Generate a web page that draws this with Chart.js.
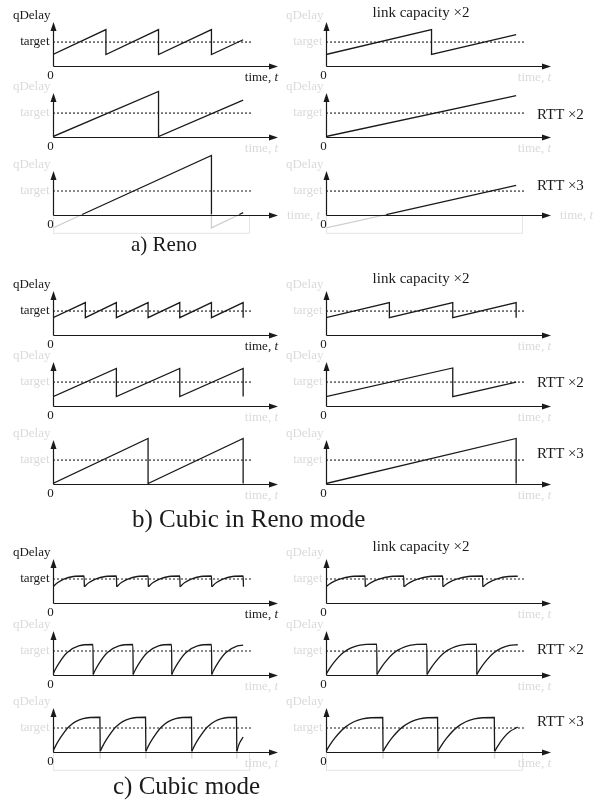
<!DOCTYPE html>
<html>
<head>
<meta charset="utf-8">
<script src="https://cdn.jsdelivr.net/npm/chart.js@4.4.1/dist/chart.umd.min.js"></script>
<style>
    html, body { margin: 0; padding: 0; background: #fff; }
    #fig { position: relative; width: 600px; height: 801px; overflow: hidden;
           font-family: "Liberation Serif", "Times New Roman", serif; color: #1a1a1a; }
    #fig canvas { position: absolute; }
    .note { position: absolute; line-height: 1; white-space: nowrap; transform: translateY(-50%); }
</style>
</head>
<body>
<div id="fig"></div>
<script>
// time in t units, qDelay in multiples of target
// a) Reno
const renoL1 = [[0,0.47],[1.67,1.53],[1.67,0.47],[3.33,1.53],[3.33,0.47],[5.0,1.53],[5.0,0.47],[6.0,1.1]];
const renoR1 = [[0,0.47],[3.33,1.53],[3.33,0.47],[6.0,1.32]];
const renoL2 = [[0,0],[3.33,1.92],[3.33,0],[6.0,1.55]];
const renoR2 = [[0,0],[6.0,1.74]];
const renoL3 = [[0,-0.57],[0.92,0],[5.0,2.52],[5.0,0],[5.0,-0.57],[5.88,0],[6.0,0.08]];
const renoR3 = [[0,-0.57],[1.9,0],[6.0,1.24]];

// b) Cubic in Reno mode
const crenoL1 = [[0,0.72],[1.02,1.36],[1.02,0.72],[2,1.36],[2,0.72],[3,1.36],[3,0.72],[4,1.36],[4,0.72],[5,1.36],[5,0.72],[6,1.36],[6,0.72]];
const crenoR1 = [[0,0.72],[2,1.36],[2,0.72],[4,1.36],[4,0.72],[6,1.36],[6,0.72]];
const crenoL2 = [[0,0.38],[2,1.58],[2,0.38],[4,1.58],[4,0.38],[6,1.58],[6,0.38]];
const crenoR2 = [[0,0.38],[4,1.6],[4,0.38],[6,1.0]];
const crenoL3 = [[0,0],[3,1.92],[3,0],[6,1.92],[6,0]];
const crenoR3 = [[0,0],[6,1.92],[6,0]];

// c) Cubic mode, one array per sawtooth cycle
const cubicL1 = [
    [[0,0.67],[0.05,0.74],[0.15,0.85],[0.34,1.0],[0.64,1.11],[0.98,1.13],[0.99,0.67]],
    [[0.99,0.67],[1.04,0.74],[1.14,0.85],[1.34,1.0],[1.65,1.11],[2.0,1.13],[2.01,0.67]],
    [[2.01,0.67],[2.06,0.74],[2.16,0.85],[2.36,1.0],[2.66,1.11],[3.0,1.13],[3.01,0.67]],
    [[3.01,0.67],[3.06,0.74],[3.16,0.85],[3.36,1.0],[3.66,1.11],[4.0,1.13],[4.01,0.67]],
    [[4.01,0.67],[4.06,0.74],[4.16,0.85],[4.36,1.0],[4.66,1.11],[5.0,1.13],[5.01,0.67]],
    [[5.01,0.67],[5.06,0.74],[5.16,0.85],[5.36,1.0],[5.66,1.11],[6.0,1.13],[6.01,0.67]]
];
const cubicR1 = [
    [[0,0.67],[0.06,0.74],[0.18,0.85],[0.43,1.0],[0.8,1.11],[1.23,1.13],[1.24,0.67]],
    [[1.24,0.67],[1.3,0.74],[1.42,0.85],[1.67,1.0],[2.04,1.11],[2.45,1.13],[2.46,0.67]],
    [[2.46,0.67],[2.52,0.74],[2.64,0.85],[2.89,1.0],[3.26,1.11],[3.68,1.13],[3.69,0.67]],
    [[3.69,0.67],[3.75,0.74],[3.87,0.85],[4.12,1.0],[4.49,1.11],[4.94,1.13],[4.95,0.67]],
    [[4.95,0.67],[5.01,0.74],[5.13,0.85],[5.38,1.0],[5.75,1.11],[6.05,1.12]]
];
const cubicL2 = [
    [[0,0],[0.06,0.18],[0.19,0.49],[0.44,0.93],[0.81,1.22],[1.26,1.28],[1.27,0]],
    [[1.27,0],[1.33,0.18],[1.46,0.49],[1.71,0.93],[2.08,1.22],[2.52,1.28],[2.53,0]],
    [[2.53,0],[2.59,0.18],[2.72,0.49],[2.97,0.93],[3.33,1.22],[3.74,1.28],[3.75,0]],
    [[3.75,0],[3.81,0.18],[3.94,0.49],[4.19,0.93],[4.56,1.22],[5.0,1.28],[5.01,0]],
    [[5.01,0],[5.07,0.18],[5.2,0.49],[5.45,0.93],[5.82,1.22],[6.0,1.25]]
];
const cubicR2 = [
    [[0,0],[0.08,0.19],[0.24,0.5],[0.55,0.94],[1.03,1.24],[1.6,1.3],[1.61,0]],
    [[1.61,0],[1.69,0.19],[1.85,0.5],[2.16,0.94],[2.64,1.24],[3.18,1.3],[3.19,0]],
    [[3.19,0],[3.27,0.19],[3.43,0.5],[3.74,0.94],[4.22,1.24],[4.75,1.3],[4.76,0]],
    [[4.76,0],[4.84,0.19],[5.0,0.5],[5.31,0.94],[5.79,1.24],[6.05,1.27]]
];
const cubicL3 = [
    [[0,0],[0.07,0.21],[0.22,0.56],[0.5,1.06],[0.95,1.4],[1.48,1.46],[1.49,0]],
    [[1.49,0],[1.56,0.21],[1.71,0.56],[1.99,1.06],[2.43,1.4],[2.92,1.46],[2.93,0]],
    [[2.93,0],[3.0,0.21],[3.15,0.56],[3.43,1.06],[3.87,1.4],[4.37,1.46],[4.38,0]],
    [[4.38,0],[4.45,0.21],[4.6,0.56],[4.88,1.06],[5.32,1.4],[5.79,1.46],[5.8,0]],
    [[5.8,0],[5.86,0.28],[6.0,0.62]]
];
const cubicR3 = [
    [[0,0],[0.09,0.21],[0.27,0.56],[0.62,1.05],[1.15,1.39],[1.79,1.45],[1.8,0]],
    [[1.8,0],[1.89,0.21],[2.07,0.56],[2.42,1.05],[2.95,1.39],[3.52,1.45],[3.53,0]],
    [[3.53,0],[3.62,0.21],[3.8,0.56],[4.15,1.05],[4.68,1.39],[5.31,1.45],[5.32,0]],
    [[5.32,0],[5.41,0.21],[5.59,0.56],[5.8,0.85],[6.05,1.04]]
];
const cubicL3Drops = [0, 1.49, 2.93, 4.38, 5.8];
const cubicR3Drops = [0, 1.8, 3.53, 5.32];

const targetLine = [[0,1],[6.28,1]];
const boxOutline = [[0,0],[0,-0.8],[6.2,-0.8],[6.2,0]];

const INK = '#1a1a1a';
const FADE = '#dadada';
const FADE_LINE = '#cfcfcf';
const X_MAX = 7.1, Y_MIN = -1, Y_MAX = 2.75, AXIS_TOP = 1.85;
const FONT = '"Liberation Serif", "Times New Roman", serif';

const panels = [
    { col: 0, axisY: 66,  lines: [renoL1], dark: true },
    { col: 1, axisY: 66,  lines: [renoR1] },
    { col: 0, axisY: 137, lines: [renoL2] },
    { col: 1, axisY: 137, lines: [renoR2] },
    { col: 0, axisY: 215, lines: [renoL3], box: true, sideTime: true },
    { col: 1, axisY: 215, lines: [renoR3], box: true, sideTime: true },
    { col: 0, axisY: 335, lines: [crenoL1], dark: true },
    { col: 1, axisY: 335, lines: [crenoR1] },
    { col: 0, axisY: 406, lines: [crenoL2] },
    { col: 1, axisY: 406, lines: [crenoR2] },
    { col: 0, axisY: 484, lines: [crenoL3] },
    { col: 1, axisY: 484, lines: [crenoR3] },
    { col: 0, axisY: 603, lines: cubicL1, smooth: true, dark: true },
    { col: 1, axisY: 603, lines: cubicR1, smooth: true },
    { col: 0, axisY: 675, lines: cubicL2, smooth: true },
    { col: 1, axisY: 675, lines: cubicR2, smooth: true },
    { col: 0, axisY: 752, lines: cubicL3, smooth: true, box: true, stubs: cubicL3Drops },
    { col: 1, axisY: 752, lines: cubicR3, smooth: true, box: true, stubs: cubicR3Drops }
];

const notes = [
    { text: 'link capacity \u00d72', x: 421, y: 12, size: 15, center: true },
    { text: 'RTT \u00d72', x: 537, y: 114, size: 15 },
    { text: 'RTT \u00d73', x: 537, y: 185, size: 15 },
    { text: 'a) Reno', x: 131, y: 244, size: 21 },
    { text: 'link capacity \u00d72', x: 421, y: 278, size: 15, center: true },
    { text: 'RTT \u00d72', x: 537, y: 382, size: 15 },
    { text: 'RTT \u00d73', x: 537, y: 453, size: 15 },
    { text: 'b) Cubic in Reno mode', x: 132, y: 518, size: 25 },
    { text: 'link capacity \u00d72', x: 421, y: 546, size: 15, center: true },
    { text: 'RTT \u00d72', x: 537, y: 649, size: 15 },
    { text: 'RTT \u00d73', x: 537, y: 721, size: 15 },
    { text: 'c) Cubic mode', x: 113, y: 785, size: 25 }
];

const toXY = arr => arr.map(p => ({ x: p[0], y: p[1] }));

// axes, arrows and the small axis labels
const framePlugin = {
    id: 'frame',
    afterDatasetsDraw(chart) {
        const p = chart.options.plugins.frame;
        const ctx = chart.ctx;
        const xs = chart.scales.x, ys = chart.scales.y;
        const x0 = Math.round(xs.getPixelForValue(0)) + 0.5;
        const y0 = Math.round(ys.getPixelForValue(0)) + 0.5;
        const tip = xs.getPixelForValue(X_MAX);
        const top = ys.getPixelForValue(AXIS_TOP);

        ctx.save();
        ctx.strokeStyle = INK;
        ctx.fillStyle = INK;
        ctx.lineWidth = 1.2;
        ctx.beginPath();
        ctx.moveTo(x0, y0); ctx.lineTo(tip - 6, y0);
        ctx.moveTo(x0, y0); ctx.lineTo(x0, top + 6);
        ctx.stroke();
        ctx.beginPath();
        ctx.moveTo(tip, y0); ctx.lineTo(tip - 9, y0 - 3); ctx.lineTo(tip - 9, y0 + 3);
        ctx.closePath(); ctx.fill();
        ctx.beginPath();
        ctx.moveTo(x0, top); ctx.lineTo(x0 - 3, top + 9); ctx.lineTo(x0 + 3, top + 9);
        ctx.closePath(); ctx.fill();

        ctx.textBaseline = 'middle';
        ctx.font = '13px ' + FONT;
        ctx.fillStyle = p.dark ? INK : FADE;
        ctx.textAlign = 'right';
        ctx.fillText('qDelay', x0 - 3, y0 - 51);
        ctx.fillText('target', x0 - 4, ys.getPixelForValue(1));

        // time, t  (t in italics)
        const w1 = ctx.measureText('time, ').width;
        ctx.font = 'italic 13px ' + FONT;
        const w2 = ctx.measureText('t').width;
        let tx = tip - w1 - w2, ty = y0 + 11;
        if (p.sideTime) { tx = tip + 9; ty = y0; }
        ctx.textAlign = 'left';
        ctx.font = '13px ' + FONT;
        ctx.fillText('time, ', tx, ty);
        ctx.font = 'italic 13px ' + FONT;
        ctx.fillText('t', tx + w1, ty);

        ctx.font = '13px ' + FONT;
        ctx.fillStyle = INK;
        ctx.textAlign = 'center';
        ctx.fillText('0', x0 - 3, y0 + 9);
        ctx.restore();
    }
};

function buildPanel(panel) {
    const W = 327, H = 88;
    const canvas = document.createElement('canvas');
    canvas.width = W; canvas.height = H;
    canvas.style.width = W + 'px'; canvas.style.height = H + 'px';
    canvas.style.left = (panel.col === 0 ? 0 : 273) + 'px';
    canvas.style.top = Math.round(panel.axisY - H * Y_MAX / (Y_MAX - Y_MIN)) + 'px';
    document.getElementById('fig').appendChild(canvas);

    const datasets = [];
    datasets.push({
        data: toXY(targetLine), borderColor: INK, borderWidth: 1.1,
        borderDash: [2, 2], pointRadius: 0, tension: 0
    });
    if (panel.box) {
        datasets.push({
            data: toXY(boxOutline), borderColor: '#e4e4e4', borderWidth: 1,
            pointRadius: 0, tension: 0
        });
    }
    if (panel.stubs) {
        const stubData = [];
        panel.stubs.forEach(t => {
            stubData.push({ x: t, y: 0 }, { x: t, y: -0.3 }, { x: t, y: null });
        });
        datasets.push({ data: stubData, borderColor: '#dedede', borderWidth: 1.5, pointRadius: 0, tension: 0 });
    }
    panel.lines.forEach(line => {
        datasets.push({
            data: toXY(line),
            borderColor: INK,
            borderWidth: 1.3,
            pointRadius: 0,
            tension: 0,
            cubicInterpolationMode: panel.smooth ? 'monotone' : 'default',
            segment: {
                borderColor: c => (c.p0.parsed.y < -0.001 || c.p1.parsed.y < -0.001) ? FADE_LINE : INK
            }
        });
    });

    new Chart(canvas.getContext('2d'), {
        type: 'line',
        data: { datasets: datasets },
        options: {
            responsive: false,
            animation: false,
            events: [],
            layout: { padding: { left: 53, right: 49, top: 0, bottom: 0 } },
            scales: {
                x: { type: 'linear', min: 0, max: X_MAX, display: false },
                y: { type: 'linear', min: Y_MIN, max: Y_MAX, display: false }
            },
            plugins: {
                legend: { display: false },
                tooltip: { enabled: false },
                frame: { dark: !!panel.dark, sideTime: !!panel.sideTime }
            }
        },
        plugins: [framePlugin]
    });
}

panels.forEach(buildPanel);

notes.forEach(n => {
    const d = document.createElement('div');
    d.className = 'note';
    d.textContent = n.text;
    d.style.left = n.x + 'px';
    d.style.top = n.y + 'px';
    d.style.fontSize = n.size + 'px';
    if (n.center) d.style.transform = 'translate(-50%, -50%)';
    document.getElementById('fig').appendChild(d);
});
</script>
</body>
</html>
